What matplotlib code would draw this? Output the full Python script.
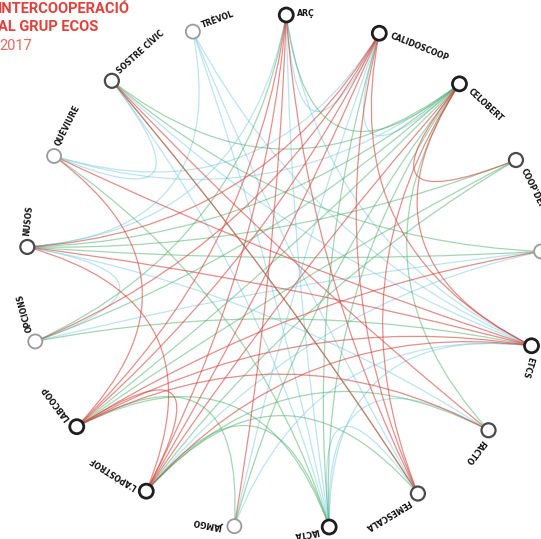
import numpy as np
import matplotlib
matplotlib.use("Agg")
import matplotlib.pyplot as plt
from matplotlib.patches import Circle, PathPatch
from matplotlib.path import Path
from matplotlib import font_manager

# cooperatives, clockwise from the top
names = ["ARÇ", "CALIDOSCOOP", "CELOBERT", "COOP'DEMA", "DINAMIA", "ETCS",
         "FACTO", "FEMESCALA", "IACTA", "JAMGO", "L'APÒSTROF", "LABCOOP",
         "OPCIONS", "NUSOS", "QUÈVIURE", "SOSTRE CÍVIC", "TRÈVOL"]
node_tone = ["dark", "dark", "dark", "mid", "light", "dark",
             "mid", "mid", "dark", "light", "dark", "dark",
             "light", "mid", "light", "mid", "light"]

red_links = [
    ("ARÇ", "JAMGO"), ("ARÇ", "L'APÒSTROF"), ("ARÇ", "LABCOOP"),
    ("CALIDOSCOOP", "LABCOOP"), ("CALIDOSCOOP", "L'APÒSTROF"),
    ("CALIDOSCOOP", "OPCIONS"), ("CALIDOSCOOP", "NUSOS"),
    ("CALIDOSCOOP", "FEMESCALA"), ("CALIDOSCOOP", "ETCS"),
    ("CELOBERT", "COOP'DEMA"), ("CELOBERT", "ETCS"),
    ("CELOBERT", "FEMESCALA"), ("CELOBERT", "L'APÒSTROF"),
    ("ETCS", "QUÈVIURE"), ("ETCS", "NUSOS"), ("ETCS", "LABCOOP"),
    ("ETCS", "L'APÒSTROF"), ("FACTO", "LABCOOP"), ("FACTO", "SOSTRE CÍVIC"),
    ("L'APÒSTROF", "LABCOOP"), ("L'APÒSTROF", "NUSOS"),
    ("LABCOOP", "DINAMIA"), ("LABCOOP", "QUÈVIURE"),
    ("SOSTRE CÍVIC", "FEMESCALA"), ("ARÇ", "FEMESCALA"),
]
green_links = [
    ("ARÇ", "CELOBERT"), ("ARÇ", "OPCIONS"),
    ("CALIDOSCOOP", "IACTA"),
    ("CELOBERT", "LABCOOP"), ("CELOBERT", "OPCIONS"),
    ("CELOBERT", "SOSTRE CÍVIC"), ("CELOBERT", "JAMGO"),
    ("CELOBERT", "IACTA"), ("CELOBERT", "FACTO"), ("CELOBERT", "NUSOS"),
    ("COOP'DEMA", "NUSOS"), ("COOP'DEMA", "LABCOOP"),
    ("COOP'DEMA", "L'APÒSTROF"),
    ("DINAMIA", "NUSOS"), ("DINAMIA", "SOSTRE CÍVIC"),
    ("FACTO", "L'APÒSTROF"), ("FEMESCALA", "SOSTRE CÍVIC"),
    ("FEMESCALA", "L'APÒSTROF"), ("IACTA", "QUÈVIURE"),
    ("IACTA", "L'APÒSTROF"), ("IACTA", "LABCOOP"), ("JAMGO", "LABCOOP"),
    ("ETCS", "OPCIONS"),
]
teal_links = [
    ("ARÇ", "CALIDOSCOOP"), ("ARÇ", "IACTA"), ("ARÇ", "ETCS"), ("ARÇ", "NUSOS"),
    ("CALIDOSCOOP", "CELOBERT"), ("CALIDOSCOOP", "JAMGO"),
    ("CALIDOSCOOP", "QUÈVIURE"), ("CELOBERT", "QUÈVIURE"),
    ("DINAMIA", "L'APÒSTROF"), ("DINAMIA", "OPCIONS"),
    ("ETCS", "SOSTRE CÍVIC"), ("ETCS", "TRÈVOL"), ("ETCS", "IACTA"),
    ("FACTO", "NUSOS"), ("FACTO", "IACTA"),
    ("FEMESCALA", "IACTA"), ("FEMESCALA", "TRÈVOL"),
    ("IACTA", "TRÈVOL"), ("IACTA", "SOSTRE CÍVIC"),
    ("NUSOS", "OPCIONS"), ("QUÈVIURE", "SOSTRE CÍVIC"),
    ("TRÈVOL", "NUSOS"), ("JAMGO", "ETCS"),
]

link_colors = {"red": "#d2443c", "green": "#4aad68", "teal": "#6cc3dc"}
link_alpha = {"red": 0.6, "green": 0.5, "teal": 0.45}
tone_style = {"dark": ("#1e1e1e", 2.0), "mid": ("#4a4a4a", 1.6),
              "light": ("#9a9a9a", 1.3)}

W, H = 541, 539
cx, cy, R = 284, 273, 258
start_angle = 89.5

available = {f.name for f in font_manager.fontManager.ttflist}
title_font = next((f for f in ["Liberation Sans Narrow", "DejaVu Sans Condensed",
                               "Roboto"] if f in available), "DejaVu Sans")

fig = plt.figure(figsize=(W / 100, H / 100), dpi=100)
ax = fig.add_axes([0, 0, 1, 1])
ax.set_xlim(0, W)
ax.set_ylim(H, 0)
ax.set_aspect("equal")
ax.axis("off")

n = len(names)
angles = {nm: np.deg2rad(start_angle - i * 360 / n) for i, nm in enumerate(names)}
pos = {nm: (cx + R * np.cos(a), cy - R * np.sin(a)) for nm, a in angles.items()}


def draw_link(a, b, color):
    p0 = np.array(pos[a])
    p2 = np.array(pos[b])
    mid = (p0 + p2) / 2
    ctrl = np.array([cx, cy]) + 0.3 * (mid - np.array([cx, cy]))
    path = Path([p0, ctrl, p2], [Path.MOVETO, Path.CURVE3, Path.CURVE3])
    ax.add_patch(PathPatch(path, facecolor="none", edgecolor=link_colors[color],
                           lw=0.9, alpha=link_alpha[color], zorder=1))


for a, b in teal_links:
    draw_link(a, b, "teal")
for a, b in green_links:
    draw_link(a, b, "green")
for a, b in red_links:
    draw_link(a, b, "red")

for nm, tone in zip(names, node_tone):
    x, y = pos[nm]
    ec, lw = tone_style[tone]
    ax.add_patch(Circle((x, y), 7, facecolor="white", edgecolor=ec, lw=lw, zorder=3))
    th = angles[nm]
    # label runs clockwise along the tangent
    tx = x + 11 * np.sin(th) + 2 * np.cos(th)
    ty = y + 11 * np.cos(th) - 2 * np.sin(th)
    ax.text(tx, ty, nm, rotation=np.rad2deg(th) - 90, rotation_mode="anchor",
            ha="left", va="center", fontsize=5.6, fontweight="bold",
            color="#111111", zorder=4)

ax.text(-2, 13, "INTERCOOPERACIÓ", family=title_font, fontweight="bold",
        fontsize=10.5, color="#e2403a")
ax.text(-2, 31, "AL GRUP ECOS", family=title_font, fontweight="bold",
        fontsize=10.5, color="#e2403a")
ax.text(-1, 50, "2017", family=title_font, fontsize=10.5, color="#e8675f")

fig.savefig("out.png", dpi=100)
